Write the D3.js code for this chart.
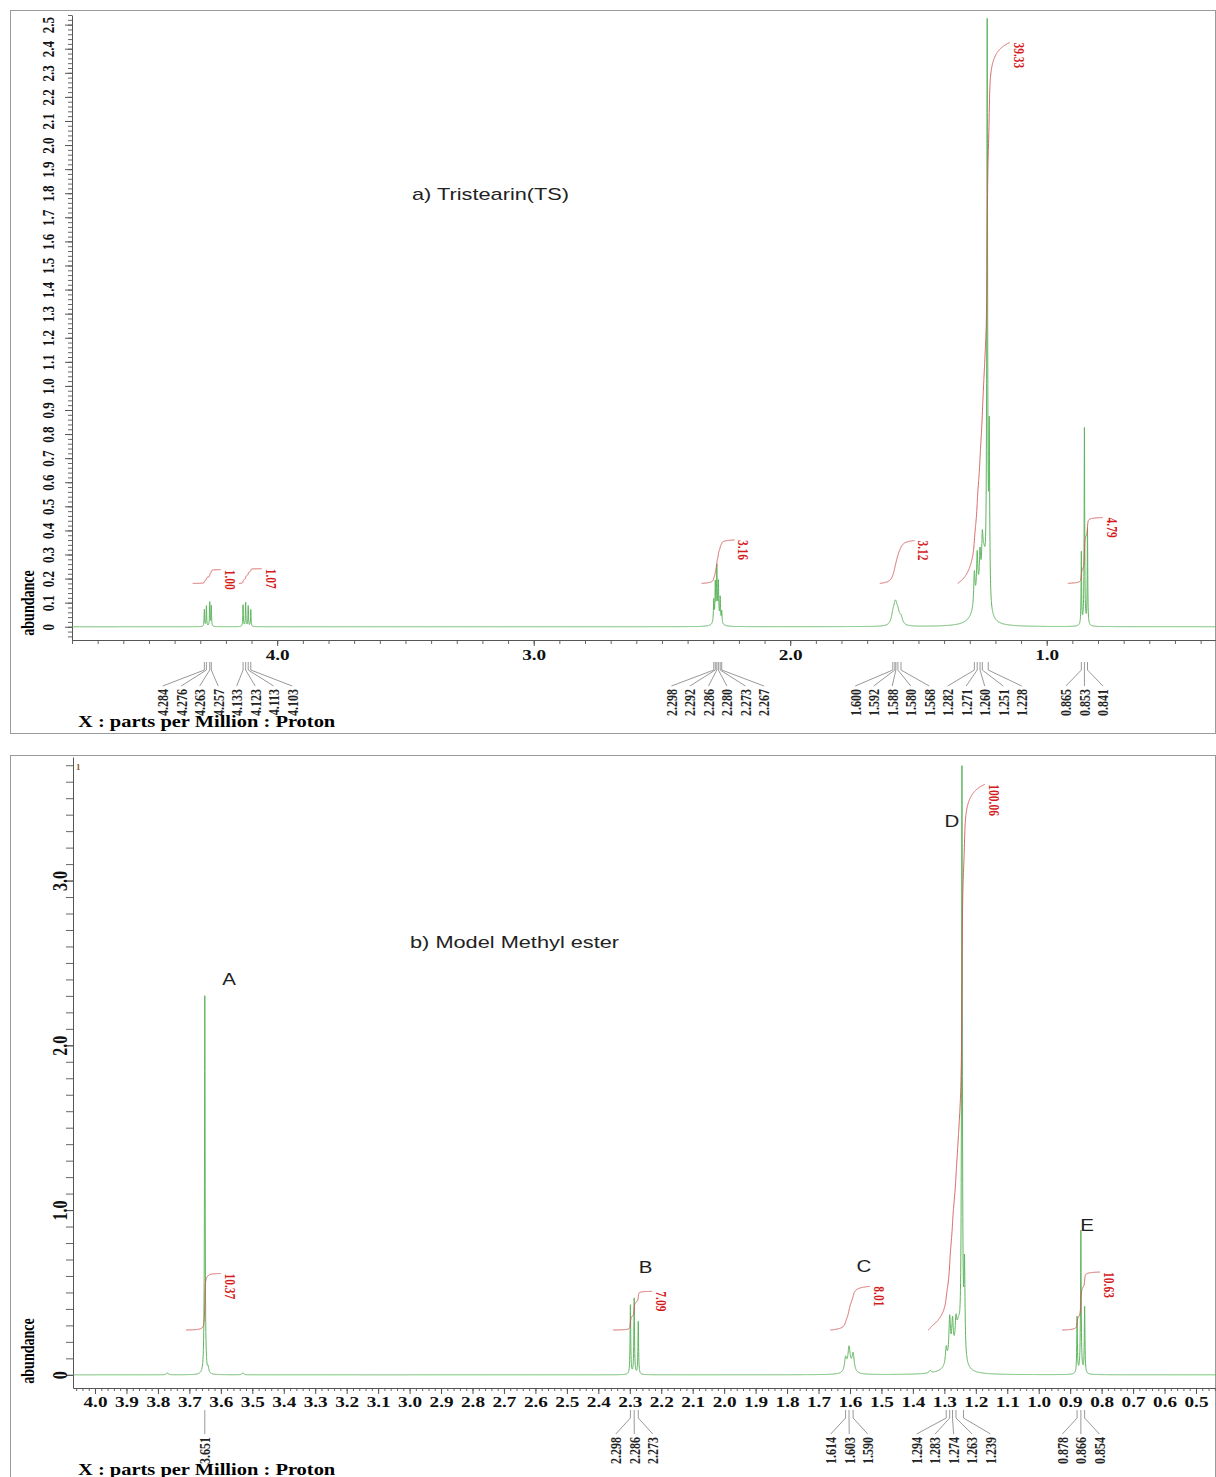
<!DOCTYPE html>
<html>
<head>
<meta charset="utf-8">
<script src="https://cdn.jsdelivr.net/npm/d3@7"></script>
<style>
body { margin: 0; background: #fff; }
svg { display: block; }
.serif { font-family: "Liberation Serif", "Times New Roman", serif; font-weight: bold; }
.sans { font-family: "Liberation Sans", Arial, sans-serif; }
</style>
</head>
<body>
<svg id="chart" width="1216" height="1477"></svg>
<script>
// a) Tristearin (TS) - peaks
const tsPeakPpm    = [4.284, 4.276, 4.263, 4.257, 4.133, 4.123, 4.113, 4.103,
                      2.298, 2.292, 2.286, 2.280, 2.273, 2.267, 2.285,
                      1.600, 1.592, 1.588, 1.580, 1.568,
                      1.282, 1.271, 1.260, 1.251, 1.232, 1.224, 1.245, 1.265,
                      0.865, 0.853, 0.841, 0.853];
const tsPeakHeight = [0.07, 0.085, 0.10, 0.085, 0.09, 0.10, 0.085, 0.07,
                      0.09, 0.15, 0.21, 0.15, 0.10, 0.05, 0.03,
                      0.035, 0.045, 0.045, 0.04, 0.03,
                      0.14, 0.18, 0.15, 0.15, 2.38, 0.7, 0.2, 0.09,
                      0.3, 0.8, 0.4, 0.02];
const tsPeakWidth  = [0.0012, 0.0012, 0.0012, 0.0012, 0.0012, 0.0012, 0.0012, 0.0012,
                      0.0015, 0.0015, 0.0015, 0.0015, 0.0015, 0.0015, 0.012,
                      0.007, 0.007, 0.007, 0.007, 0.007,
                      0.003, 0.003, 0.003, 0.003, 0.0018, 0.002, 0.009, 0.025,
                      0.0012, 0.0012, 0.0012, 0.006];

const tsPickGroups = [
    [4.284, 4.276, 4.263, 4.257],
    [4.133, 4.123, 4.113, 4.103],
    [2.298, 2.292, 2.286, 2.280, 2.273, 2.267],
    [1.600, 1.592, 1.588, 1.580, 1.568],
    [1.282, 1.271, 1.260, 1.251, 1.228],
    [0.865, 0.853, 0.841]
];
const tsIntegralFrom  = [4.33, 4.15, 2.346, 1.651, 1.347, 0.918];
const tsIntegralTo    = [4.22, 4.06, 2.217, 1.515, 1.144, 0.781];
const tsIntegralValue = [1.00, 1.07, 3.16, 3.12, 39.33, 4.79];

const tsXTicks = [4.0, 3.0, 2.0, 1.0];
const tsYTicks = [0, 0.1, 0.2, 0.3, 0.4, 0.5, 0.6, 0.7, 0.8, 0.9, 1.0, 1.1, 1.2,
                  1.3, 1.4, 1.5, 1.6, 1.7, 1.8, 1.9, 2.0, 2.1, 2.2, 2.3, 2.4, 2.5];

// b) Model methyl ester - bottom spectrum
const mePeakPpm    = [3.651, 3.640, 3.770, 3.530,
                      2.298, 2.286, 2.273,
                      1.614, 1.603, 1.590, 1.600,
                      1.345, 1.294, 1.283, 1.274, 1.263, 1.244, 1.236, 1.255, 1.270,
                      0.878, 0.866, 0.854, 0.866];
const mePeakHeight = [2.30, 0.03, 0.012, 0.012,
                      0.42, 0.46, 0.32,
                      0.08, 0.12, 0.10, 0.04,
                      0.015, 0.1, 0.25, 0.2, 0.15, 3.55, 0.55, 0.2, 0.08,
                      0.34, 0.84, 0.40, 0.03];
const mePeakWidth  = [0.0012, 0.002, 0.003, 0.003,
                      0.0012, 0.0012, 0.0012,
                      0.004, 0.004, 0.004, 0.012,
                      0.004, 0.003, 0.003, 0.003, 0.003, 0.0015, 0.002, 0.008, 0.025,
                      0.0012, 0.0012, 0.0012, 0.006];

const mePickGroups = [
    [3.651],
    [2.298, 2.286, 2.273],
    [1.614, 1.603, 1.590],
    [1.294, 1.283, 1.274, 1.263, 1.239],
    [0.878, 0.866, 0.854]
];
const meIntegralFrom  = [3.711, 2.353, 1.663, 1.352, 0.926];
const meIntegralTo    = [3.600, 2.229, 1.536, 1.171, 0.805];
const meIntegralValue = [10.37, 7.09, 8.01, 100.06, 10.63];

const meLetters      = ['A', 'B', 'C', 'D', 'E'];
const meLetterPpm    = [3.574, 2.250, 1.556, 1.276, 0.846];
const meLetterAbund  = [2.40, 0.65, 0.66, 3.36, 0.91];

const meXTicks = [4.0, 3.9, 3.8, 3.7, 3.6, 3.5, 3.4, 3.3, 3.2, 3.1, 3.0, 2.9, 2.8,
                  2.7, 2.6, 2.5, 2.4, 2.3, 2.2, 2.1, 2.0, 1.9, 1.8, 1.7, 1.6, 1.5,
                  1.4, 1.3, 1.2, 1.1, 1.0, 0.9, 0.8, 0.7, 0.6, 0.5];
const meYTicks = [0, 1.0, 2.0, 3.0];

const STRETCH = 1.28;   // the original figure is stretched sideways
const SERIF = '"Liberation Serif", "Times New Roman", serif';

const svg = d3.select('#chart');

const tsX = d3.scaleLinear().domain([4.8, 0.34]).range([72, 1216]);
const tsY = d3.scaleLinear().domain([-0.055, 2.54]).range([640, 15]);
const meX = d3.scaleLinear().domain([4.07, 0.4364]).range([73, 1216]);
const meY = d3.scaleLinear().domain([-0.08, 3.75]).range([1388, 757]);

// sum of lorentzian lines on a fine ppm grid (plus points at every line centre)
function buildSpectrum(ppm, height, width, domain) {
    const xs = [];
    for (let v = domain[0]; v >= domain[1]; v -= 0.0004) xs.push(v);
    ppm.forEach((p, i) => {
        [-1, -0.5, 0, 0.5, 1].forEach(f => xs.push(p + f * width[i]));
    });
    xs.sort((a, b) => b - a);
    return xs.map(v => [v, d3.sum(ppm, (p, i) => height[i] / (1 + ((v - p) / width[i]) ** 2))]);
}

function drawFrame(y0, h) {
    svg.append('rect')
        .attr('x', 10.5).attr('y', y0 + 0.5)
        .attr('width', 1205).attr('height', h)
        .attr('fill', 'none')
        .attr('stroke', '#9a9a9a');
}

function styleAxis(sel, size) {
    sel.attr('font-family', SERIF)
       .attr('font-weight', 'bold')
       .attr('font-size', size)
       .attr('color', '#555');
    sel.selectAll('text').attr('fill', '#111');
}

function drawAxes(p) {
    const axisY = p.y.range()[0];
    const axisX = p.x.range()[0];

    svg.append('g')
        .attr('transform', `translate(0,${axisY})`)
        .call(d3.axisBottom(p.x).tickValues(p.xMinor).tickSize(p.xMinorSize).tickFormat('').tickSizeOuter(0))
        .call(a => a.select('.domain').remove())
        .attr('color', '#666');

    const xa = svg.append('g')
        .attr('transform', `translate(0,${axisY})`)
        .call(d3.axisBottom(p.x).tickValues(p.xTicks).tickSize(6).tickPadding(p.xPad)
            .tickFormat(d3.format('.1f')).tickSizeOuter(0));
    styleAxis(xa, p.xFont);
    xa.selectAll('.tick text').attr('transform', `scale(${STRETCH},1)`);

    svg.append('g')
        .attr('transform', `translate(${axisX},0)`)
        .call(d3.axisLeft(p.y).tickValues(p.yMinor).tickSize(p.yMinorSize).tickFormat('').tickSizeOuter(0))
        .call(a => a.select('.domain').remove())
        .attr('color', '#666');

    const ya = svg.append('g')
        .attr('transform', `translate(${axisX},0)`)
        .call(d3.axisLeft(p.y).tickValues(p.yTicks).tickSize(7)
            .tickFormat(d => d === 0 ? '0' : d.toFixed(1)).tickSizeOuter(0));
    styleAxis(ya, p.yFont);
    ya.selectAll('.tick text')
        .attr('x', null)
        .attr('text-anchor', 'middle')
        .attr('dy', '0.35em')
        .attr('transform', `translate(${-p.yLabelOff},0) scale(${STRETCH},1) rotate(-90)`);

    // abundance + x label
    svg.append('text')
        .attr('class', 'serif')
        .attr('font-size', 14)
        .attr('text-anchor', 'middle')
        .attr('dy', '0.35em')
        .attr('transform', `translate(28,${p.abundY}) scale(${STRETCH},1) rotate(-90)`)
        .text('abundance');

    svg.append('text')
        .attr('class', 'serif')
        .attr('font-size', 16)
        .attr('transform', `translate(78,${p.xLabelY}) scale(${STRETCH},1)`)
        .text('X : parts per Million : Proton');
}

function drawSpectrum(p, pts) {
    const line = d3.line().x(d => p.x(d[0])).y(d => p.y(d[1]));
    svg.append('path')
        .datum(pts)
        .attr('d', line)
        .attr('fill', 'none')
        .attr('stroke', '#5fb55f')
        .attr('stroke-width', 1);
}

function drawIntegrals(p, pts, from, to, value, base, k) {
    from.forEach((f, i) => {
        const seg = pts.filter(d => d[0] <= f && d[0] >= to[i]);
        let acc = 0;
        const cum = seg.map((d, j) => {
            if (j > 0) acc += (d[1] + seg[j - 1][1]) / 2 * (seg[j - 1][0] - d[0]);
            return [d[0], acc];
        });
        const rise = k * value[i];
        const line = d3.line()
            .x(d => p.x(d[0]))
            .y(d => p.y(base + rise * d[1] / acc));
        svg.append('path')
            .datum(cum)
            .attr('d', line)
            .attr('fill', 'none')
            .attr('stroke', '#d45656')
            .attr('stroke-opacity', 0.9)
            .attr('stroke-width', 1);

        svg.append('text')
            .attr('class', 'serif')
            .attr('font-size', 11.5)
            .attr('fill', '#d41c1c')
            .attr('dy', '0.35em')
            .attr('transform', `translate(${p.x(to[i]) + 9},${p.y(base + rise)}) scale(${STRETCH},1) rotate(90)`)
            .text(value[i].toFixed(2));
    });
}

// groups whose label fans would collide are merged into one evenly spaced block
function layoutPicks(x, groups, spacing) {
    const span = grp => {
        const c = d3.mean(grp, v => x(v));
        const half = (grp.length - 1) / 2 * spacing;
        return [c - half, c + half];
    };
    const blocks = groups.map(g => g.slice());
    let merged = true;
    while (merged) {
        merged = false;
        for (let i = 0; i < blocks.length - 1; i++) {
            if (span(blocks[i])[1] + spacing > span(blocks[i + 1])[0]) {
                blocks.splice(i, 2, blocks[i].concat(blocks[i + 1]));
                merged = true;
                break;
            }
        }
    }
    return blocks;
}

function drawPicks(p, groups) {
    const top = p.y.range()[0] + 22;
    const spacing = 18.5;
    const g = svg.append('g');
    layoutPicks(p.x, groups, spacing).forEach(grp => {
        const cx = d3.mean(grp, v => p.x(v));
        grp.forEach((v, i) => {
            const px = p.x(v);
            const lx = cx + (i - (grp.length - 1) / 2) * spacing;
            g.append('path')
                .attr('d', `M${px},${top}V${top + 8}L${lx},${top + 24}`)
                .attr('fill', 'none')
                .attr('stroke', '#999')
                .attr('stroke-width', 1);
            g.append('text')
                .attr('class', 'serif')
                .attr('font-size', 12)
                .attr('fill', '#222')
                .attr('text-anchor', 'end')
                .attr('dy', '0.35em')
                .attr('transform', `translate(${lx},${top + 27}) scale(${STRETCH},1) rotate(-90)`)
                .text(v.toFixed(3));
        });
    });
}

// ---------- panel a ----------
drawFrame(10, 723);
const tsPts = buildSpectrum(tsPeakPpm, tsPeakHeight, tsPeakWidth, tsX.domain());
const tsPanel = {
    x: tsX, y: tsY,
    xTicks: tsXTicks, xMinor: d3.range(48, 3, -1).map(i => i / 10), xMinorSize: 4, xPad: 3, xFont: 15,
    yTicks: tsYTicks, yMinor: d3.range(-2, 128).map(i => i * 0.02), yMinorSize: 4, yFont: 13, yLabelOff: 24,
    abundY: 603, xLabelY: 727
};
drawAxes(tsPanel);
drawSpectrum(tsPanel, tsPts);
drawIntegrals(tsPanel, tsPts, tsIntegralFrom, tsIntegralTo, tsIntegralValue, 0.18, 0.0571);
drawPicks(tsPanel, tsPickGroups);

svg.append('text')
    .attr('class', 'sans')
    .attr('font-size', 17)
    .attr('fill', '#222')
    .attr('transform', `translate(412,200) scale(${STRETCH},1)`)
    .text('a) Tristearin(TS)');

// ---------- panel b ----------
drawFrame(755, 730);
const mePts = buildSpectrum(mePeakPpm, mePeakHeight, mePeakWidth, meX.domain());
const mePanel = {
    x: meX, y: meY,
    xTicks: meXTicks, xMinor: d3.range(203, 21, -1).map(i => i * 0.02), xMinorSize: 3, xPad: 2, xFont: 15,
    yTicks: meYTicks, yMinor: d3.range(0, 38).map(i => i / 10), yMinorSize: 7, yFont: 16, yLabelOff: 13,
    abundY: 1351, xLabelY: 1475
};
drawAxes(mePanel);
drawSpectrum(mePanel, mePts);
drawIntegrals(mePanel, mePts, meIntegralFrom, meIntegralTo, meIntegralValue, 0.272, 0.0331);
drawPicks(mePanel, mePickGroups);

svg.append('text')
    .attr('class', 'sans')
    .attr('font-size', 17)
    .attr('fill', '#222')
    .attr('transform', `translate(410,948) scale(${STRETCH},1)`)
    .text('b) Model Methyl ester');

svg.append('g')
    .selectAll('text')
    .data(meLetters)
    .enter().append('text')
    .attr('class', 'sans')
    .attr('font-size', 16)
    .attr('fill', '#1e1e1e')
    .attr('text-anchor', 'middle')
    .attr('dy', '0.35em')
    .attr('transform', (d, i) => `translate(${meX(meLetterPpm[i])},${meY(meLetterAbund[i])}) scale(${STRETCH},1)`)
    .text(d => d);

svg.append('text')
    .attr('class', 'serif')
    .attr('font-size', 9)
    .attr('fill', '#8b5a2b')
    .attr('x', 76).attr('y', 770)
    .text('1');
</script>
</body>
</html>
